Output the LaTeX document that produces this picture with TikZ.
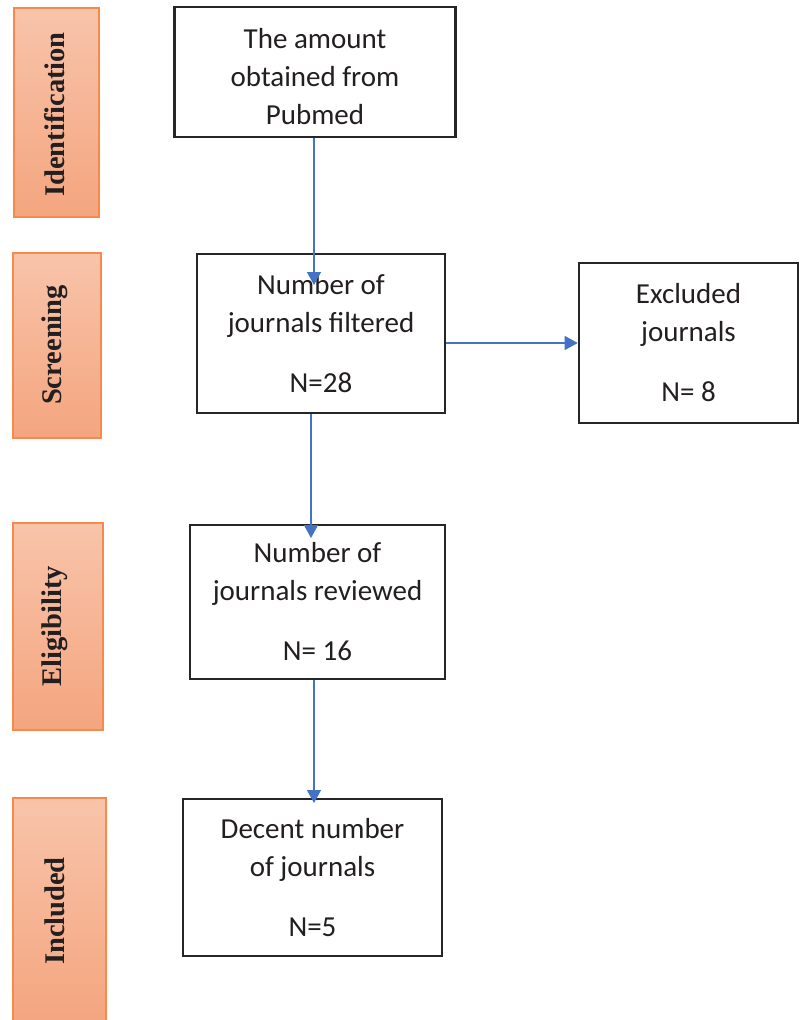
\documentclass[tikz,border=0pt]{standalone}
\usepackage{fontspec}
\setmainfont{Carlito}
\newfontfamily\stagefont{Liberation Serif}
\usetikzlibrary{arrows.meta}
\definecolor{barTop}{HTML}{F8C4AA}
\definecolor{barBot}{HTML}{F4A57F}
\definecolor{barEdge}{HTML}{F58A4B}
\definecolor{flowBlue}{HTML}{4472C4}
\definecolor{boxLine}{HTML}{262626}
\definecolor{txtCol}{HTML}{231F20}
\begin{document}
\begin{tikzpicture}[x=1pt,y=-1pt,
  stagebar/.style={draw=barEdge, line width=1.3pt, top color=barTop, bottom color=barBot, inner sep=0pt},
  stagelabel/.style={rotate=90, inner sep=0pt, text=txtCol, font=\stagefont\bfseries\fontsize{28.5}{30}\selectfont},
  flowbox/.style={draw=boxLine, line width=2.6pt, fill=white, align=center, inner sep=0pt, text=txtCol, font=\fontsize{29}{38}\selectfont},
  flowarrow/.style={draw=flowBlue, line width=1.3pt, -{Triangle[length=13pt,width=14pt]}}]
\useasboundingbox (0,0) rectangle (800,1020);
\begin{scope}
\clip (0,0) rectangle (800,1020);
% stage bars
\node[stagebar, minimum width=85pt, minimum height=209pt] (s1) at (56.5,112.5) {};
\node[stagebar, minimum width=88pt, minimum height=185pt] (s2) at (57,345.5) {};
\node[stagebar, minimum width=90pt, minimum height=207pt] (s3) at (58,626.5) {};
\node[stagebar, minimum width=93pt, minimum height=226pt] (s4) at (59.5,911) {};
\node[stagelabel] (l1) at (55,114.5) {Identification};
\node[stagelabel] (l2) at (55,345) {Screening};
\node[stagelabel] (l3) at (55,626) {Eligibility};
\node[stagelabel] (l4) at (55,911) {Included};
% boxes
\node[flowbox, minimum width=281pt, minimum height=130pt] (b1) at (315,72) {\rule{0pt}{29pt}The amount\\obtained from\\Pubmed};
\node[flowbox, minimum width=248pt, minimum height=159pt] (b2) at (321,333.5) {Number of\\journals filtered\\[22pt]N=28};
\node[flowbox, minimum width=219pt, minimum height=160pt] (ex) at (688.5,343) {Excluded\\journals\\[22pt]N= 8};
\node[flowbox, minimum width=255pt, minimum height=154pt] (b3) at (317.5,602) {Number of\\journals reviewed\\[22pt]N= 16};
\node[flowbox, minimum width=259pt, minimum height=157pt] (b4) at (312.5,877.5) {Decent number\\of journals\\[22pt]N=5};
% connectors
\coordinate (t12) at (314,285);
\coordinate (t23) at (311,538);
\coordinate (t34) at (314,803);
\draw[flowarrow] (b1.south -| t12) -- (t12);
\draw[flowarrow] (b2.south -| t23) -- (t23);
\draw[flowarrow] (b3.south -| t34) -- (t34);
\draw[flowarrow] (b2.east |- ex.west) -- (ex.west);
\end{scope}
\end{tikzpicture}
\end{document}
